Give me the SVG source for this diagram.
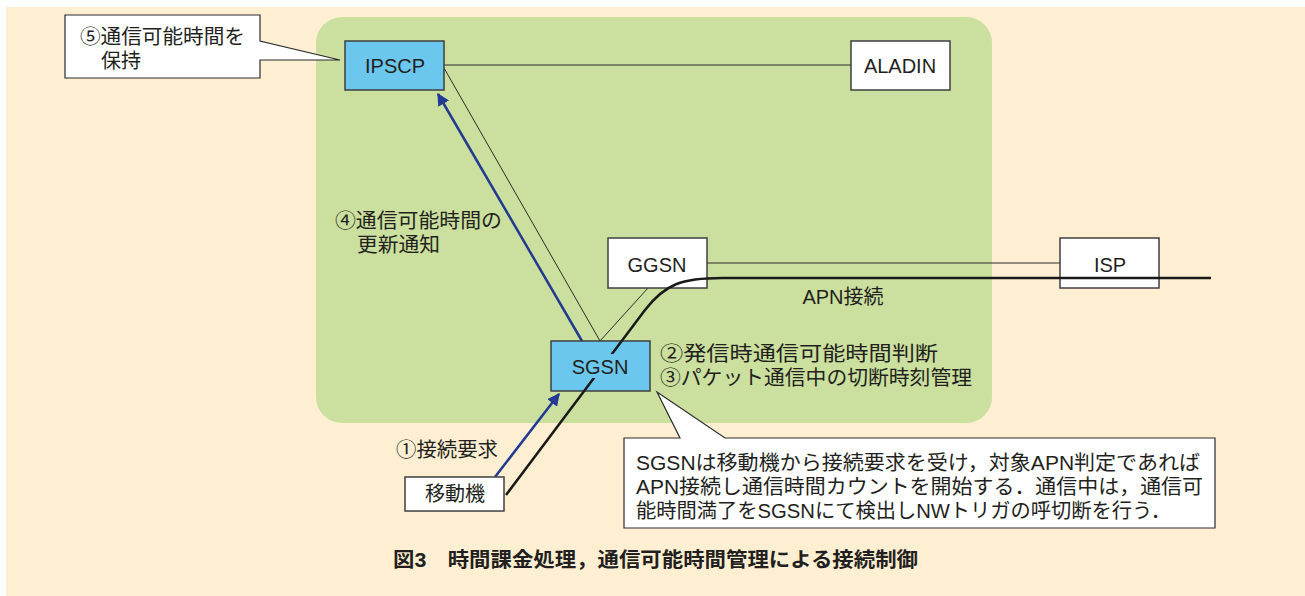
<svg xmlns="http://www.w3.org/2000/svg" width="1305" height="596" viewBox="0 0 1305 596">
  <style>
    .jp { font-family: "Liberation Sans", "Noto Sans CJK JP", sans-serif; fill: #231f20; font-size: 20px; }
    .lbl { font-family: "Liberation Sans", "Noto Sans CJK JP", sans-serif; fill: #231f20; font-size: 20px; text-anchor: middle; }
    .box { stroke: #3f3f3f; stroke-width: 1.5; }
    .white { fill: #ffffff; }
    .blue { fill: #6cc7ee; }
    .thin { stroke: #2b2b2b; stroke-width: 1; fill: none; }
    .arrow { stroke: #233a92; stroke-width: 2.5; fill: none; }
    .apn { stroke: #1a1a1a; stroke-width: 2.5; fill: none; }
  </style>
  <defs>
    <marker id="head" viewBox="0 0 10 10" refX="9" refY="5" markerWidth="5" markerHeight="5" orient="auto" markerUnits="strokeWidth">
      <path d="M0,0 L10,5 L0,10 z" fill="#233a92"/>
    </marker>
  </defs>

  <!-- page background -->
  <rect x="0" y="0" width="1305" height="596" fill="#ffffff"/>
  <rect x="6" y="7" width="1299" height="589" fill="#feefd3"/>
  <!-- network domain -->
  <rect x="316" y="17" width="676" height="406" rx="26" ry="26" fill="#cbe09e"/>

  <!-- connectors -->
  <g id="connectors">
    <line class="thin" x1="444" y1="65" x2="851" y2="65" stroke="#555"/>
    <line class="thin" x1="444" y1="68" x2="600" y2="341"/>
    <line class="thin" x1="648" y1="288" x2="600" y2="341"/>
    <line class="thin" x1="707" y1="263" x2="1060" y2="263"/>
    <line class="arrow" x1="582" y1="341" x2="438" y2="94" marker-end="url(#head)"/>
    <line class="arrow" x1="495" y1="477" x2="559" y2="394" marker-end="url(#head)"/>
  </g>

  <!-- nodes -->
  <g id="ipscp">
    <rect class="box blue" x="345" y="41" width="99" height="49"/>
    <text class="lbl" x="395" y="73">IPSCP</text>
  </g>
  <g id="aladin">
    <rect class="box white" x="851" y="41" width="99" height="49"/>
    <text class="lbl" x="900" y="73">ALADIN</text>
  </g>
  <g id="ggsn">
    <rect class="box white" x="608" y="238" width="99" height="50"/>
    <text class="lbl" x="657" y="272">GGSN</text>
  </g>
  <g id="isp">
    <rect class="box white" x="1060" y="238" width="99" height="50"/>
    <text class="lbl" x="1110" y="272">ISP</text>
  </g>
  <g id="sgsn">
    <rect class="box blue" x="551" y="341" width="99" height="50"/>
  </g>
  <g id="mobile">
    <rect class="box white" x="405" y="477" width="99" height="34"/>
    <text class="lbl" x="455" y="501">移動機</text>
  </g>

  <!-- APN connection path -->
  <g id="apn-path">
    <path class="apn" d="M506,495 L645,310 C665,284 682,278 722,278 L1211,278"/>
    <text class="lbl" x="843" y="304">APN接続</text>
  </g>
  <!-- SGSN label sits above the path -->
  <g id="sgsn-label">
    <rect x="568" y="354" width="64" height="24" fill="#6cc7ee"/>
    <text class="lbl" x="600" y="374">SGSN</text>
  </g>

  <!-- callout for IPSCP -->
  <g id="callout-ipscp">
    <path d="M65,15 H260 V41 L340,60 L260,60 V78 H65 Z" fill="#ffffff" stroke="#2b2b2b" stroke-width="1.2"/>
    <text class="jp" x="80" y="44" textLength="165" lengthAdjust="spacingAndGlyphs">⑤通信可能時間を</text>
    <text class="jp" x="101" y="68">保持</text>
  </g>

  <!-- step labels -->
  <g id="step4">
    <text class="jp" x="335" y="228" textLength="167" lengthAdjust="spacingAndGlyphs">④通信可能時間の</text>
    <text class="jp" x="357" y="252" textLength="83" lengthAdjust="spacingAndGlyphs">更新通知</text>
  </g>
  <g id="step23">
    <text class="jp" x="660" y="361" textLength="278" lengthAdjust="spacingAndGlyphs">②発信時通信可能時間判断</text>
    <text class="jp" x="660" y="385" textLength="312" lengthAdjust="spacingAndGlyphs">③パケット通信中の切断時刻管理</text>
  </g>
  <g id="step1">
    <text class="jp" x="396" y="457" textLength="102" lengthAdjust="spacingAndGlyphs">①接続要求</text>
  </g>

  <!-- callout for SGSN -->
  <g id="callout-sgsn">
    <path d="M624,438 H680 L657,392 L725,438 H1215 V528 H624 Z" fill="#ffffff" stroke="#2b2b2b" stroke-width="1.2"/>
    <text class="jp" x="636" y="470" textLength="564" lengthAdjust="spacingAndGlyphs">SGSNは移動機から接続要求を受け，対象APN判定であれば</text>
    <text class="jp" x="636" y="494" textLength="567" lengthAdjust="spacingAndGlyphs">APN接続し通信時間カウントを開始する．通信中は，通信可</text>
    <text class="jp" x="636" y="518" textLength="535" lengthAdjust="spacingAndGlyphs">能時間満了をSGSNにて検出しNWトリガの呼切断を行う．</text>
  </g>

  <!-- caption -->
  <text class="jp" font-size="19" font-weight="bold" x="393" y="567" textLength="525" lengthAdjust="spacingAndGlyphs">図3　時間課金処理，通信可能時間管理による接続制御</text>
</svg>
